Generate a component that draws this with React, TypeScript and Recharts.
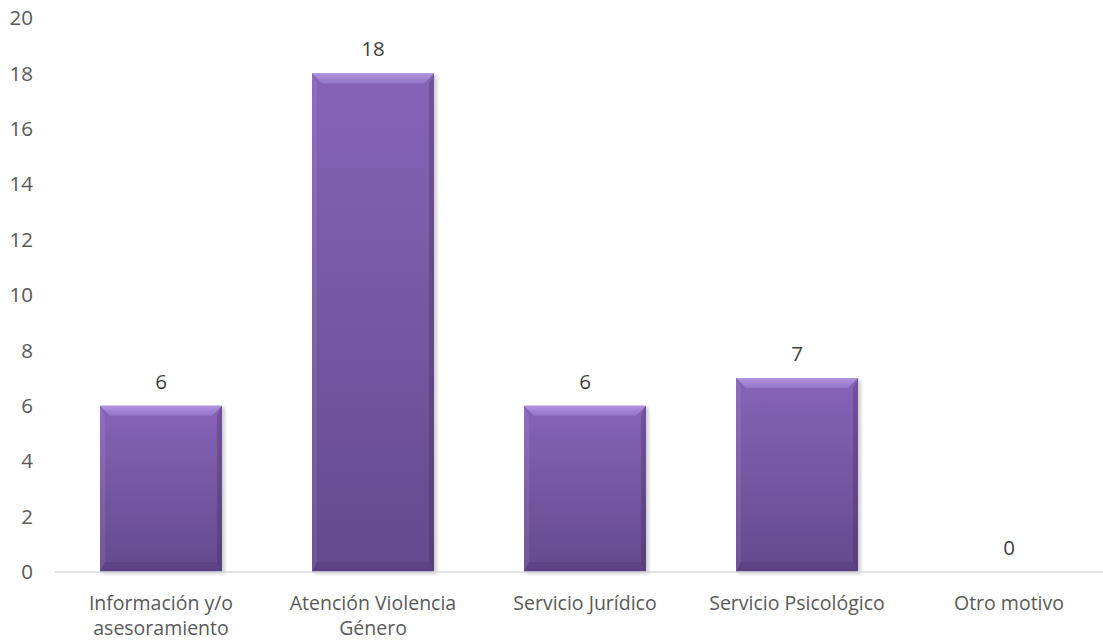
import React from "react";
import { BarChart, Bar, XAxis, YAxis, LabelList } from "recharts";

const categories = [
  "Información y/o asesoramiento",
  "Atención Violencia Género",
  "Servicio Jurídico",
  "Servicio Psicológico",
  "Otro motivo",
];
const values = [6, 18, 6, 7, 0];
const yTicks = [0, 2, 4, 6, 8, 10, 12, 14, 16, 18, 20];

const data = categories.map((c, i) => ({ name: c, value: values[i] }));

const FONT = "'Open Sans', sans-serif";
const TEXT = "#595959";
const FS = 20.5;
const XFS = 19.5;
const MAX_CHARS = 20;

const wrap = (s: string) => {
  const words = s.split(" ");
  const lines: string[] = [];
  let cur = "";
  for (const w of words) {
    const next = cur ? cur + " " + w : w;
    if (next.length > MAX_CHARS && cur) {
      lines.push(cur);
      cur = w;
    } else {
      cur = next;
    }
  }
  if (cur) lines.push(cur);
  return lines;
};

const BevelBar = (props: any) => {
  const { x, y, width: w, height: h } = props;
  if (!h || h <= 0) return null;
  const b = Math.min(10, h / 2);
  const s = 5;
  return (
    <g>
      <rect x={x + 2} y={y + 2} width={w + 1} height={h} fill="rgba(0,0,0,0.18)" filter="url(#barShadow)" />
      <rect x={x} y={y} width={w} height={h} fill="url(#barGrad)" />
      <polygon
        points={`${x},${y} ${x + w},${y} ${x + w - b},${y + b} ${x + b},${y + b}`}
        fill="url(#topGrad)"
      />
      <polygon
        points={`${x},${y} ${x + s},${y + b} ${x + s},${y + h - b} ${x},${y + h}`}
        fill="rgba(255,255,255,0.07)"
      />
      <polygon
        points={`${x + w},${y} ${x + w - s},${y + b} ${x + w - s},${y + h - b} ${x + w},${y + h}`}
        fill="rgba(40,20,70,0.22)"
      />
      <polygon
        points={`${x},${y + h} ${x + w},${y + h} ${x + w - s},${y + h - b} ${x + s},${y + h - b}`}
        fill="rgba(40,20,70,0.14)"
      />
    </g>
  );
};

const XTick = (props: any) => {
  const { x, y, payload } = props;
  const lines = wrap(String(payload.value));
  return (
    <text
      x={x}
      y={y + 30}
      textAnchor="middle"
      style={{ fontFamily: FONT, fontSize: XFS, fill: TEXT }}
    >
      {lines.map((l, i) => (
        <tspan key={i} x={x} dy={i === 0 ? 0 : 25}>
          {l}
        </tspan>
      ))}
    </text>
  );
};

export default function App() {
  return (
    <div style={{ position: "absolute", left: 0, top: 0, width: 1103, height: 641, overflow: "hidden", background: "#fff" }}>
      <BarChart
        width={1115}
        height={641}
        data={data}
        margin={{ top: 18, right: 0, left: 0, bottom: 0 }}
        barSize={122}
      >
        <defs>
          <linearGradient id="barGrad" x1="0" y1="0" x2="0" y2="1">
            <stop offset="0%" stopColor="#8763b7" />
            <stop offset="50%" stopColor="#7657a2" />
            <stop offset="100%" stopColor="#644a8e" />
          </linearGradient>
          <linearGradient id="topGrad" x1="0" y1="0" x2="0" y2="1">
            <stop offset="0%" stopColor="#b193e0" />
            <stop offset="100%" stopColor="#9474c6" />
          </linearGradient>
          <filter id="barShadow" x="-10%" y="-10%" width="120%" height="120%">
            <feGaussianBlur stdDeviation="1.5" />
          </filter>
        </defs>
        <XAxis
          dataKey="name"
          height={69}
          axisLine={{ stroke: "#d9d9d9", strokeWidth: 1.5 }}
          tickLine={false}
          tick={<XTick />}
          interval={0}
        />
        <YAxis
          width={55}
          domain={[0, 20]}
          ticks={yTicks}
          axisLine={false}
          tickLine={false}
          tickSize={0}
          tickMargin={22}
          tick={{ fontFamily: FONT, fontSize: FS, fill: TEXT }}
        />
        <Bar dataKey="value" shape={<BevelBar />} isAnimationActive={false}>
          <LabelList
            dataKey="value"
            position="top"
            offset={17}
            style={{ fontFamily: FONT, fontSize: FS, fill: "#404040" }}
          />
        </Bar>
      </BarChart>
    </div>
  );
}
